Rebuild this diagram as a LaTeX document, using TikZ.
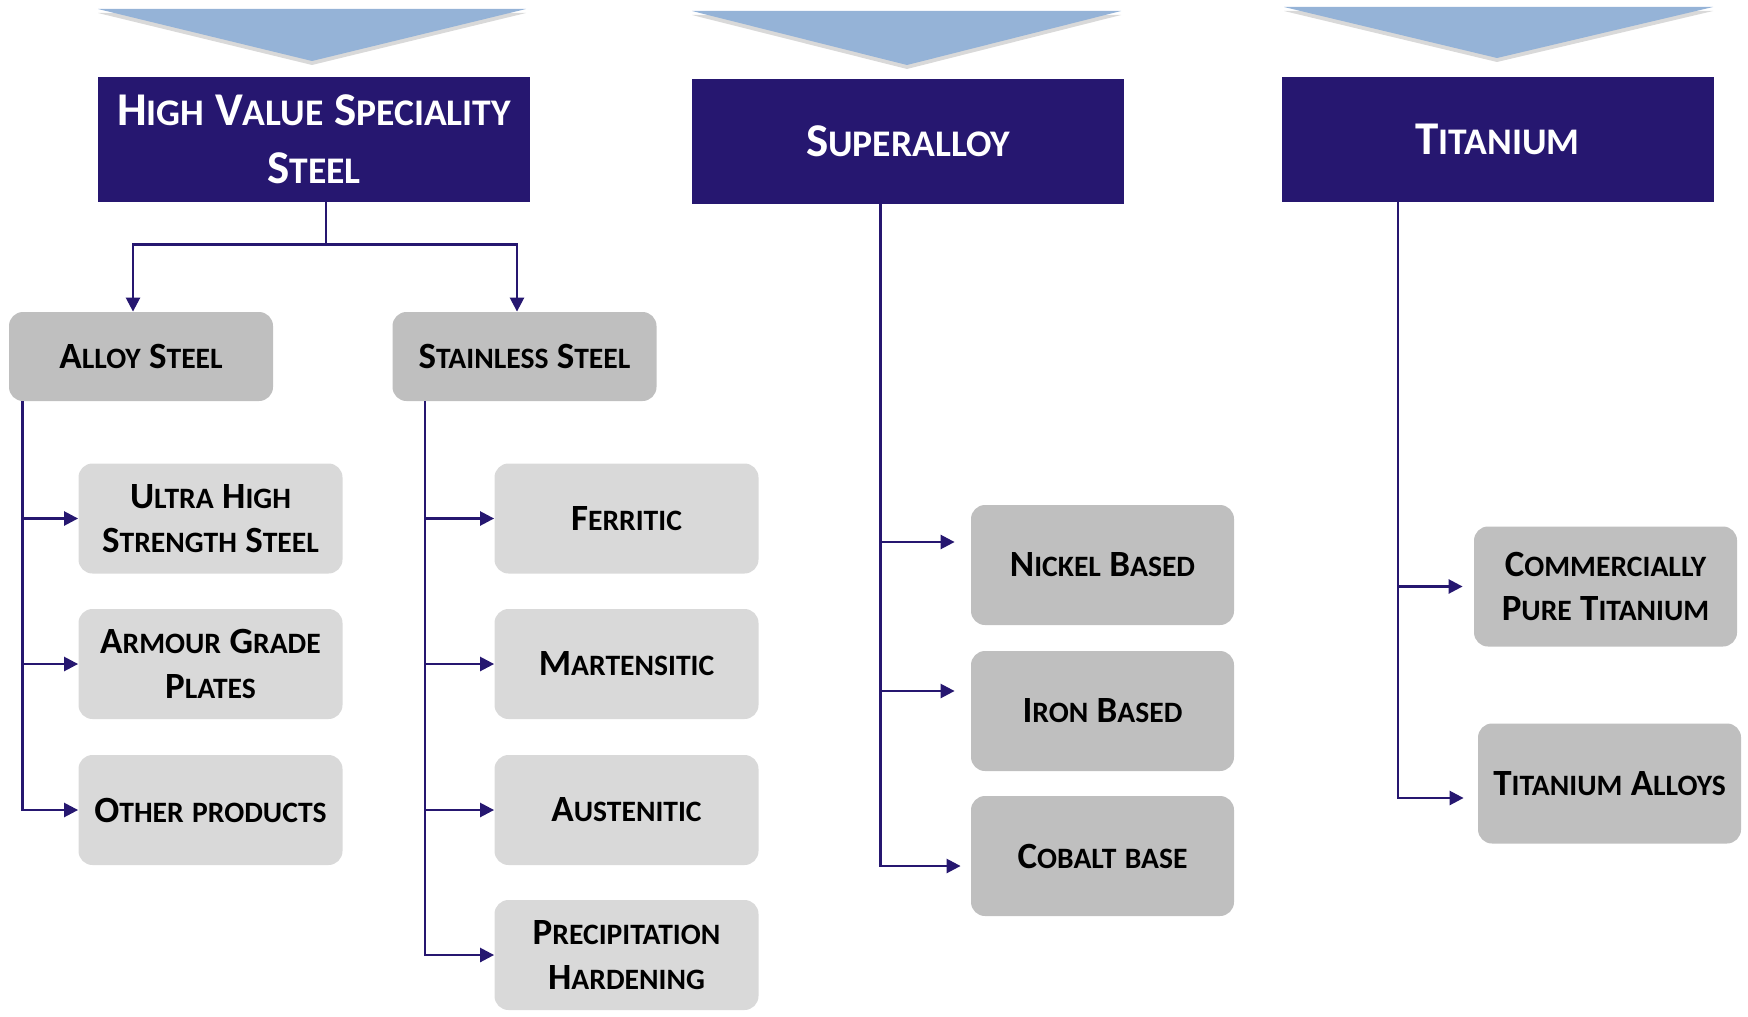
\documentclass[tikz,border=0pt]{standalone}
\usepackage{fontspec}
\setmainfont{Carlito}
\newfontfamily\scfont{Carlito}[Scale=0.8]
\usepackage{tikz}
\usetikzlibrary{arrows.meta,shadows}

\definecolor{navy}{RGB}{38,23,112}
\definecolor{chevblue}{RGB}{149,179,215}
\definecolor{midgray}{RGB}{191,191,191}
\definecolor{lightgray}{RGB}{217,217,217}

% small capitals by hand (Carlito has none)
\newcommand\smc[1]{\smcaux#1\relax}
\def\smcaux#1#2\relax{\ifnum\uccode`#1=`#1 #1\else{\scfont\uppercase{#1}}\fi{\scfont\uppercase{#2}}}

\tikzset{
  head/.style={fill=navy, text=white, minimum width=216pt, minimum height=62.5pt,
    align=center, font=\fontsize{23.5}{29}\selectfont\bfseries},
  item/.style={fill=midgray, rounded corners=7pt, minimum width=132pt, minimum height=44.5pt,
    align=center, font=\fontsize{18.5}{22.3}\selectfont\bfseries},
  subitem/.style={item, minimum height=55pt},
  light/.style={subitem, fill=lightgray},
  tall/.style={item, minimum width=131.5pt, minimum height=60pt},
  link/.style={draw=navy, line width=1.25pt},
  arr/.style={link, -{Triangle[length=7pt,width=7pt]}},
  chev/.style={fill=chevblue, drop shadow={shadow xshift=0pt, shadow yshift=-2pt, opacity=0.3}}
}

\begin{document}
\begin{tikzpicture}[x=0.5pt,y=-0.5pt]
  \useasboundingbox (0,0) rectangle (1748,1016);

  % chevrons
  \fill[chev] (98,9) -- (526,9) -- (312,61) -- cycle;
  \fill[chev] (692,11) -- (1121,11) -- (907,65) -- cycle;
  \fill[chev] (1284,7) -- (1713,7) -- (1497,58) -- cycle;

  % top boxes
  \node[head] (hvs) at (314,139.5) {\smc{High} \smc{Value} \smc{Speciality}\\\smc{Steel}};
  \node[head] (superalloy) at (908,141.5) {\smc{Superalloy}};
  \node[head] (titanium) at (1497.5,139.5) {\smc{Titanium}};

  % steel
  \node[item] (alloy) at (141,356.5) {\smc{Alloy} \smc{Steel}};
  \node[item] (stainless) at (524.5,356.5) {\smc{Stainless} \smc{Steel}};
  \node[light] (ultra) at (210.5,518.5) {\smc{Ultra} \smc{High}\\\smc{Strength} \smc{Steel}};
  \node[light] (armour) at (210.5,664) {\smc{Armour} \smc{Grade}\\\smc{Plates}};
  \node[light] (other) at (210.5,810) {\smc{Other} \smc{products}};
  \node[light] (ferritic) at (626.5,518.5) {\smc{Ferritic}};
  \node[light] (martensitic) at (626.5,664) {\smc{Martensitic}};
  \node[light] (austenitic) at (626.5,810) {\smc{Austenitic}};
  \node[light] (precip) at (626.5,955) {\smc{Precipitation}\\\smc{Hardening}};

  % superalloy
  \node[tall] (nickel) at (1102.5,565) {\smc{Nickel} \smc{Based}};
  \node[tall] (iron) at (1102.5,711) {\smc{Iron} \smc{Based}};
  \node[tall] (cobalt) at (1102.5,856) {\smc{Cobalt} \smc{base}};

  % titanium
  \node[tall] (cpti) at (1605.5,586.5) {\smc{Commercially}\\\smc{Pure} \smc{Titanium}};
  \node[tall] (tialloys) at (1609.5,783.5) {\smc{Titanium} \smc{Alloys}};

  \draw[link] ([xshift=6pt]hvs.south) -- ++(0,42) coordinate (fork);
  \draw[arr] (fork) -| ([xshift=-4pt]alloy.north);
  \draw[arr] (fork) -| ([xshift=-3.75pt]stainless.north);

  \draw[arr] ([xshift=7pt]alloy.south west) |- (ultra.west);
  \draw[arr] ([xshift=7pt]alloy.south west) |- (armour.west);
  \draw[arr] ([xshift=7pt]alloy.south west) |- (other.west);

  \draw[arr] ([xshift=16.5pt]stainless.south west) |- (ferritic.west);
  \draw[arr] ([xshift=16.5pt]stainless.south west) |- (martensitic.west);
  \draw[arr] ([xshift=16.5pt]stainless.south west) |- (austenitic.west);
  \draw[arr] ([xshift=16.5pt]stainless.south west) |- (precip.west);

  \draw[arr] ([xshift=94.5pt]superalloy.south west) |- ([xshift=-8pt,yshift=11.5pt]nickel.west);
  \draw[arr] ([xshift=94.5pt]superalloy.south west) |- ([xshift=-8pt,yshift=10pt]iron.west);
  \draw[arr] ([xshift=94.5pt]superalloy.south west) |- ([xshift=-5pt,yshift=-5pt]cobalt.west);

  \draw[arr] ([xshift=58.5pt]titanium.south west) |- ([xshift=-5.5pt]cpti.west);
  \draw[arr] ([xshift=58.5pt]titanium.south west) |- ([xshift=-7pt,yshift=-7.25pt]tialloys.west);
\end{tikzpicture}
\end{document}
